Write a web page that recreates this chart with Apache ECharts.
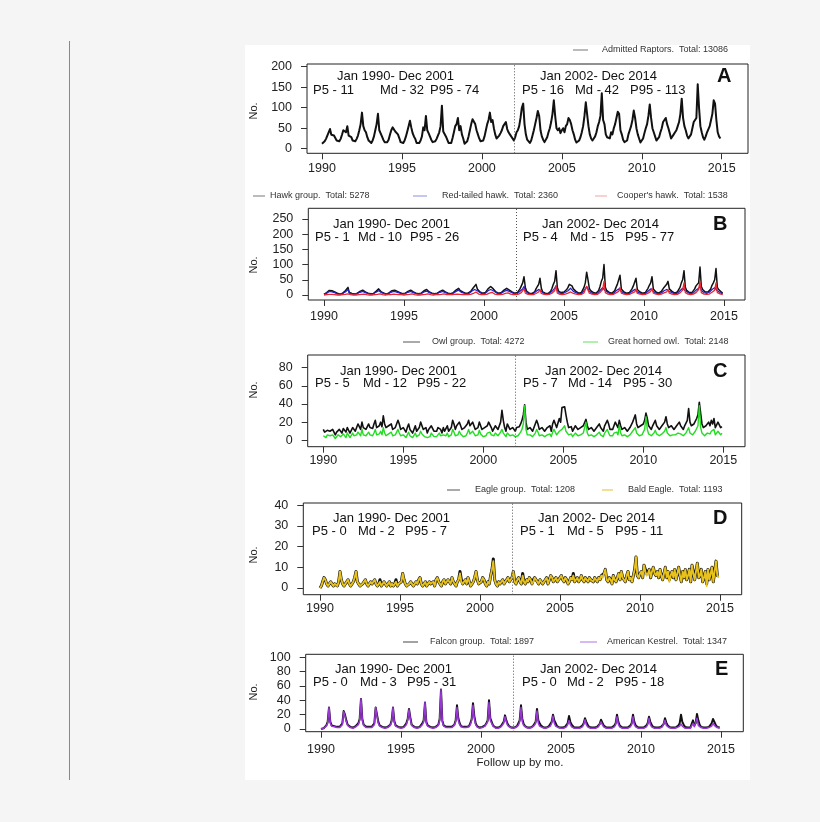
<!DOCTYPE html>
<html>
<head>
<meta charset="utf-8">
<script src="https://cdn.jsdelivr.net/npm/echarts@6/dist/echarts.min.js"></script>
<style>
  body { margin: 0; background: #f5f5f5; width: 820px; height: 822px; position: relative; overflow: hidden; }
  #rule { position: absolute; left: 69px; top: 41px; width: 1px; height: 739px; background: #888; }
  #chart { position: absolute; left: 245px; top: 45px; width: 505px; height: 735px; background: #fff; }
</style>
</head>
<body>
<div id="rule"></div>
<div id="chart"></div>
<script>
const FONT = '"Liberation Sans", Arial, Helvetica, sans-serif'
const START_YEAR = 1990

// monthly counts, one row per year 1990..2014
const admitted = [
  12,14,18,24,32,40,48,34,30,32,26,20,
  16,18,24,34,45,44,40,55,32,36,28,20,
  16,18,24,32,45,60,88,55,45,40,28,20,
  16,14,20,30,45,60,85,45,48,30,22,16,
  14,16,22,34,45,52,55,42,38,35,26,16,
  12,14,20,30,42,55,68,52,38,30,24,14,
  12,14,20,30,52,45,80,45,38,30,22,16,
  16,18,24,32,40,55,105,42,40,30,22,14,
  10,14,26,40,55,60,75,45,55,35,25,12,
  14,18,30,45,60,72,70,60,45,35,25,18,
  16,20,30,45,60,70,88,65,70,50,35,25,
  28,32,38,45,55,58,65,48,40,35,30,26,
  20,28,40,45,55,75,100,110,60,35,22,18,
  14,20,32,45,60,75,92,80,45,30,22,16,
  20,28,40,50,65,85,118,80,50,45,50,38,
  45,50,40,55,60,75,70,60,45,35,22,15,
  15,20,28,40,55,80,113,110,55,35,25,20,
  25,30,40,55,65,80,135,70,60,35,28,30,
  25,40,35,50,60,75,90,85,45,35,22,16,
  12,20,35,45,55,70,93,75,50,35,25,15,
  20,25,38,50,60,80,108,75,50,40,30,20,
  20,28,40,50,65,70,75,60,50,38,25,25,
  35,40,45,55,65,85,122,75,55,45,32,25,
  25,35,50,65,70,75,157,100,55,40,28,22,
  30,40,40,55,70,85,118,110,70,40,30,25
]

const hawkGroup = [
  2,4,8,12,15,10,14,16,10,8,6,4,
  3,4,6,10,14,16,25,8,6,5,4,3,
  4,6,8,12,14,16,18,10,8,6,5,4,
  3,5,8,12,16,20,22,10,8,6,5,3,
  5,8,10,14,18,16,14,12,10,8,6,4,
  4,6,8,12,14,16,22,10,8,6,5,4,
  4,6,10,14,16,18,20,10,8,6,5,4,
  5,6,8,12,14,16,20,10,8,6,5,4,
  6,8,12,16,18,22,15,12,10,8,6,5,
  6,8,12,18,24,30,35,20,14,10,8,6,
  6,8,12,20,26,28,32,20,14,10,8,6,
  6,8,10,16,20,22,25,16,12,10,8,6,
  5,8,12,20,30,40,60,25,12,8,6,5,
  5,6,10,20,28,35,55,22,10,8,6,5,
  5,8,12,22,35,45,80,25,12,10,8,6,
  10,15,18,25,35,40,30,20,15,12,8,6,
  5,8,14,25,40,75,50,22,14,10,8,6,
  6,10,15,28,45,55,100,25,15,12,8,6,
  6,8,14,25,35,40,65,20,14,10,8,6,
  5,8,12,20,30,35,55,18,12,10,8,6,
  6,8,14,22,32,40,60,20,14,10,8,6,
  8,12,18,25,30,35,45,20,15,12,8,6,
  6,10,15,25,40,50,80,25,15,12,8,6,
  8,12,20,30,35,40,92,28,18,12,10,8,
  10,15,20,32,40,50,87,25,18,14,10,6
]

const redTailed = [
  2,3,6,10,12,8,10,12,8,6,4,3,
  2,3,5,8,10,10,18,6,5,4,3,2,
  3,5,6,9,11,12,14,8,6,5,4,3,
  2,4,6,9,12,14,16,8,6,5,4,2,
  4,6,8,10,14,12,10,9,8,6,5,3,
  3,5,6,9,11,12,16,8,6,5,4,3,
  3,5,7,10,12,13,14,8,6,5,4,3,
  4,5,6,9,11,12,14,8,6,5,4,3,
  4,6,9,12,14,16,11,9,8,6,5,4,
  4,6,9,13,16,18,20,14,10,8,6,4,
  4,6,9,14,18,18,20,14,10,8,6,4,
  4,6,8,12,14,15,16,12,9,8,6,4,
  3,5,8,12,16,20,28,14,8,6,4,3,
  3,4,7,12,15,18,24,12,7,5,4,3,
  3,5,8,12,18,22,30,14,8,6,5,4,
  6,9,10,14,20,22,18,12,9,8,5,4,
  3,5,8,14,20,28,22,12,9,6,5,4,
  4,6,9,15,20,24,30,14,9,8,5,4,
  4,5,8,14,18,20,25,12,9,6,5,4,
  3,5,7,12,16,18,22,10,8,6,5,4,
  4,5,8,12,16,20,25,12,9,6,5,4,
  5,7,10,14,16,18,22,12,9,8,5,4,
  4,6,9,14,18,22,28,14,9,8,5,4,
  5,7,12,16,18,22,30,15,10,8,6,5,
  6,9,12,18,20,24,28,14,10,8,6,4
]

const coopers = [
  0,0,1,1,2,1,2,3,1,1,0,0,
  0,0,1,1,2,2,4,1,1,0,0,0,
  0,1,1,2,2,2,3,1,1,1,0,0,
  0,0,1,2,2,3,4,1,1,1,0,0,
  1,1,1,2,3,3,2,2,1,1,1,0,
  0,1,1,2,2,3,4,1,1,1,0,0,
  0,1,1,2,2,3,4,1,1,1,0,0,
  1,1,1,2,2,3,4,1,1,1,1,0,
  1,1,2,3,3,4,2,2,1,1,1,1,
  1,1,2,3,5,8,10,5,3,2,1,1,
  1,1,2,4,6,7,9,5,3,2,1,1,
  1,1,2,3,5,6,7,4,3,2,1,1,
  1,2,3,5,8,12,20,6,3,2,1,1,
  1,1,2,5,8,10,18,5,2,2,1,1,
  1,2,3,6,10,14,30,6,3,2,2,1,
  2,3,4,6,9,10,8,5,4,3,2,1,
  1,2,4,7,12,28,16,6,4,3,2,1,
  1,2,4,8,14,18,45,8,4,3,2,1,
  1,2,4,7,10,12,25,6,4,3,2,1,
  1,2,3,6,9,10,20,5,3,3,2,1,
  1,2,4,6,10,12,22,6,4,3,2,1,
  2,3,5,7,9,10,18,6,4,3,2,1,
  1,2,4,7,12,16,40,8,4,3,2,1,
  2,3,5,8,10,18,45,8,5,3,2,2,
  2,3,5,9,12,16,40,8,5,4,2,1
]

const owlGroup = [
  12,9,8,11,13,10,8,12,10,6,9,11,
  12,10,8,13,11,9,14,12,8,10,14,12,
  10,14,18,15,12,20,14,16,12,10,18,14,
  16,13,18,22,14,12,16,20,15,27,18,14,
  12,16,14,18,12,10,14,16,22,18,12,10,
  14,12,9,14,18,12,10,8,12,16,10,12,
  14,20,16,12,10,14,8,12,10,16,14,10,
  12,10,14,16,12,8,14,10,12,16,10,8,
  14,22,18,12,16,14,20,16,12,10,14,12,
  18,22,16,14,20,18,12,10,14,20,16,12,
  10,14,12,16,20,18,14,10,12,16,14,12,
  14,20,33,22,14,10,18,20,12,10,14,12,
  10,14,12,15,18,22,28,39,20,12,10,14,
  12,10,14,16,22,18,12,10,14,12,10,12,
  14,12,16,10,18,22,20,14,16,24,20,36,
  38,37,28,20,14,12,15,10,12,16,14,12,
  10,14,12,16,18,23,16,12,10,14,12,10,
  12,14,16,18,14,12,10,16,14,22,18,12,
  14,12,16,20,18,14,22,16,12,10,14,12,
  10,12,14,16,20,24,28,18,14,12,16,14,
  18,22,30,24,16,14,12,16,18,22,16,14,
  12,14,16,18,20,26,18,14,12,16,14,12,
  14,16,18,20,16,14,12,16,18,22,35,20,
  16,14,18,20,24,28,42,30,18,14,12,16,
  18,20,16,22,18,24,14,16,20,18,14,15
]

const greatHorned = [
  5,4,3,6,7,5,3,6,5,2,4,6,
  6,4,3,7,5,3,8,6,3,4,8,5,
  4,6,9,8,5,12,6,8,5,4,9,6,
  7,5,8,12,6,4,7,10,6,14,8,5,
  5,7,6,9,5,3,6,8,12,8,5,4,
  6,5,3,6,9,5,4,3,5,8,4,5,
  6,10,7,5,4,6,3,5,4,8,6,4,
  5,4,6,8,5,3,6,4,5,8,4,3,
  6,12,9,5,7,6,10,7,5,4,6,5,
  8,12,7,6,10,9,5,4,6,11,7,5,
  4,6,5,8,10,9,6,4,5,8,6,5,
  6,9,12,8,6,4,8,10,5,4,6,5,
  4,6,5,7,9,12,18,38,12,6,4,6,
  5,4,6,8,12,9,5,4,6,5,4,5,
  6,5,7,4,9,12,10,6,7,10,8,12,
  14,16,10,8,6,5,7,4,5,8,6,5,
  4,6,5,8,9,20,8,5,4,6,5,4,
  5,6,8,9,6,5,4,8,6,12,8,5,
  6,5,8,10,9,6,17,8,5,4,6,5,
  4,5,6,8,10,12,14,8,6,5,7,6,
  8,12,26,12,7,6,5,7,8,11,7,6,
  5,6,7,8,10,14,8,6,5,7,6,5,
  6,7,8,10,7,6,5,7,8,10,14,8,
  7,6,8,10,12,16,38,14,8,6,5,7,
  8,9,7,10,8,12,6,7,10,9,6,8
]

const baldEagle = [
  0,1,3,5,4,2,1,2,3,2,1,2,
  2,1,3,8,4,2,1,2,3,4,2,1,
  2,3,5,8,3,2,1,1,2,3,4,2,
  1,2,3,2,3,4,2,1,2,3,1,2,
  3,2,1,2,3,1,2,1,2,3,1,2,
  2,3,7,4,2,1,1,2,3,2,1,2,
  3,2,4,5,2,1,2,3,1,2,3,2,
  2,3,1,4,5,3,2,1,3,4,2,3,
  4,3,2,5,3,2,1,3,4,7,3,2,
  3,4,2,5,3,1,2,3,5,8,4,2,
  2,3,5,4,2,1,3,2,6,9,13,4,
  2,1,3,2,3,4,2,3,4,5,3,4,
  5,8,3,2,4,5,3,2,6,3,2,4,
  3,5,4,2,3,5,4,3,2,4,3,2,
  3,4,5,2,4,6,5,3,4,5,3,4,
  5,6,4,3,5,4,2,3,5,4,6,3,
  4,5,3,4,6,4,3,5,4,3,5,4,
  4,3,5,4,3,5,4,6,5,7,9,4,
  3,5,4,2,6,4,3,5,7,4,8,5,
  4,3,6,8,4,5,3,6,9,15,6,5,
  7,8,5,11,8,6,7,9,5,8,10,7,
  6,8,5,9,6,4,7,10,5,8,3,6,
  8,5,9,4,7,10,6,3,8,5,9,4,
  6,9,3,11,7,4,8,12,5,6,9,3,
  5,8,1,9,4,7,10,3,8,13,6,5
]

// other eagles in the eagle group: [month index from Jan 1990, count]
const otherEagles = [
  [45, 1], [57, 1], [105, 1], [106, 1], [130, 1], [152, 1], [160, 1],
  [190, 1], [212, 1], [244, 1], [245, 1], [262, 1], [280, 1], [290, 1], [299, 1]
]

const falconGroup = [
  0,0,1,3,5,10,30,10,5,3,4,3,
  3,4,3,5,8,25,20,12,6,4,3,3,
  2,3,4,5,8,14,42,14,6,4,3,2,
  3,2,3,4,8,30,20,10,5,4,3,2,
  2,3,3,4,6,12,30,11,5,4,3,3,
  2,3,3,5,8,14,28,16,6,4,3,2,
  2,2,3,4,8,12,37,10,5,4,3,2,
  2,2,3,4,6,14,55,12,5,4,3,2,
  3,2,3,4,6,12,33,15,8,4,3,3,
  2,3,3,4,8,14,36,18,8,4,3,2,
  2,3,4,5,8,12,40,15,10,5,3,2,
  2,2,3,4,6,10,19,12,7,4,3,2,
  2,2,3,4,6,12,33,14,7,4,3,2,
  2,2,3,4,7,10,28,12,8,5,3,2,
  2,2,3,4,6,10,20,12,8,4,3,2,
  2,2,2,3,5,8,18,10,6,4,2,2,
  2,2,2,3,5,8,15,10,6,3,2,2,
  2,2,2,3,5,7,13,9,5,3,2,2,
  2,2,2,3,5,8,20,10,5,3,2,2,
  2,2,2,3,5,8,20,10,5,3,2,2,
  2,2,2,3,5,8,17,10,6,3,2,2,
  2,2,2,3,5,7,15,9,5,3,2,2,
  2,2,2,3,5,8,20,10,6,3,2,2,
  2,2,3,12,5,8,21,12,6,3,2,2,
  2,2,2,3,5,8,14,12,6,3,2,2
]

const kestrel = [
  0,0,1,2,4,8,30,8,4,2,3,2,
  2,3,2,4,6,24,18,10,5,3,2,2,
  1,2,3,4,6,12,42,12,5,3,2,1,
  2,1,2,3,6,30,18,8,4,3,2,1,
  1,2,2,3,5,10,30,9,4,3,2,2,
  1,2,2,4,6,12,27,14,5,3,2,1,
  1,1,2,3,6,10,37,8,4,3,2,1,
  1,1,2,3,5,12,55,10,4,3,2,1,
  2,1,2,3,5,10,30,12,6,3,2,2,
  1,2,2,3,6,12,33,15,6,3,2,1,
  1,2,3,4,6,10,37,12,8,4,2,1,
  1,1,2,3,5,8,17,10,5,3,2,1,
  1,1,2,3,5,10,30,10,5,3,2,1,
  1,1,2,3,5,8,25,8,4,3,2,1,
  1,1,2,3,4,8,18,8,4,2,2,1,
  1,1,1,2,3,6,12,6,3,2,1,1,
  1,1,1,2,3,6,13,6,3,2,1,1,
  1,1,1,2,3,5,10,6,3,2,1,1,
  1,1,1,2,3,6,17,7,3,2,1,1,
  1,1,1,2,3,6,17,6,3,2,1,1,
  1,1,1,2,3,6,15,6,3,2,1,1,
  1,1,1,2,3,5,12,5,3,2,1,1,
  1,1,1,2,2,4,7,4,2,1,1,1,
  1,1,2,8,3,5,15,5,3,2,1,1,
  1,1,1,2,3,4,8,5,3,2,1,1
]

const eagleGroup = baldEagle.slice()
otherEagles.forEach(([m, n]) => { eagleGroup[m] += n })

const periodLabels = ['Jan 1990- Dec 2001', 'Jan 2002- Dec 2014']
const panelLetters = ['A', 'B', 'C', 'D', 'E']
// P5 / Md / P95 per period
const panelStats = [
  [['11', '32', '74'], ['16', '42', '113']],
  [['1', '10', '26'], ['4', '15', '77']],
  [['5', '12', '22'], ['7', '14', '30']],
  [['0', '2', '7'], ['1', '5', '11']],
  [['0', '3', '31'], ['0', '2', '18']]
]
const yTickMax = [200, 250, 80, 40, 100]
const yTickStep = [50, 50, 20, 10, 20]

// pixel layout inside the white figure area
const layout = [
  { boxL: 62, boxR: 503, boxT: 19, boxB: 108.3, x1990: 77, x2015: 476.7, y0: 103.7, yTop: 21.7, lab: 9, noY: 66,
    tY: 31, sY: 45, t1: 92, s1: [68, 135, 185], t2: 295, s2: [277, 330, 385], letter: 472 },
  { boxL: 63.3, boxR: 500, boxT: 163.3, boxB: 255, x1990: 79, x2015: 479, y0: 250, yTop: 174, lab: 10, noY: 220,
    tY: 179, sY: 192, t1: 88, s1: [70, 113, 165], t2: 297, s2: [278, 325, 380], letter: 468 },
  { boxL: 62.7, boxR: 500, boxT: 310, boxB: 401.7, x1990: 78.3, x2015: 478.3, y0: 395.3, yTop: 322.7, lab: 7, noY: 345,
    tY: 326, sY: 338, t1: 95, s1: [70, 118, 172], t2: 300, s2: [278, 323, 378], letter: 468 },
  { boxL: 58.3, boxR: 496.7, boxT: 458, boxB: 549.7, x1990: 75, x2015: 475, y0: 543, yTop: 460.3, lab: 7, noY: 510,
    tY: 473, sY: 486, t1: 88, s1: [67, 113, 160], t2: 293, s2: [275, 322, 370], letter: 468 },
  { boxL: 60.7, boxR: 498.3, boxT: 609.3, boxB: 686.7, x1990: 76, x2015: 476, y0: 684, yTop: 612.3, lab: 11, noY: 647,
    tY: 624, sY: 637, t1: 90, s1: [68, 115, 162], t2: 295, s2: [277, 322, 370], letter: 470 }
]

// series per panel: name (legend text), values, colour, width, legend placement
const panelSeries = [
  [
    { name: 'Admitted Raptors.  Total: 13086', values: admitted, color: '#111', width: 2,
      leg: { icon: 328, w: 15, text: 357, y: 4, color: '#777' } }
  ],
  [
    { name: 'Hawk group.  Total: 5278', values: hawkGroup, color: '#111', width: 1.5,
      leg: { icon: 8, w: 12, text: 25, y: 150, color: '#777' } },
    { name: 'Red-tailed hawk.  Total: 2360', values: redTailed, color: '#2323c8', width: 1.3,
      leg: { icon: 168, w: 14, text: 197, y: 150, color: '#8c8ce6' } },
    { name: "Cooper's hawk.  Total: 1538", values: coopers, color: '#ee2530', width: 1.3,
      leg: { icon: 350, w: 12, text: 372, y: 150, color: '#f4a0a0' } }
  ],
  [
    { name: 'Owl group.  Total: 4272', values: owlGroup, color: '#111', width: 1.6,
      leg: { icon: 158, w: 17, text: 187, y: 296, color: '#555' } },
    { name: 'Great horned owl.  Total: 2148', values: greatHorned, color: '#22dd22', width: 1.4,
      leg: { icon: 338, w: 15, text: 363, y: 296, color: '#5ee05e' } }
  ],
  [
    { name: 'Eagle group.  Total: 1208', values: eagleGroup, color: '#111', width: 3,
      leg: { icon: 202, w: 13, text: 230, y: 444, color: '#555' } },
    { name: 'Bald Eagle.  Total: 1193', values: baldEagle, color: '#e8c21c', width: 1.9,
      leg: { icon: 357, w: 11, text: 383, y: 444, color: '#e2bf2a' } }
  ],
  [
    { name: 'Falcon group.  Total: 1897', values: falconGroup, color: '#111', width: 2,
      leg: { icon: 158, w: 15, text: 185, y: 596, color: '#444' } },
    { name: 'American Kestrel.  Total: 1347', values: kestrel, color: '#9b35d8', width: 1.5,
      leg: { icon: 335, w: 17, text: 362, y: 596, color: '#b070e0' } }
  ]
]

const monthly = values => values.map((v, i) => [START_YEAR + i / 12, v])

const grid = [], xAxis = [], yAxis = [], series = [], legend = [], graphic = []

const txt = (text, x, y, size, opts) => ({
  type: 'text', silent: true,
  style: Object.assign({ text, x, y, font: size + 'px ' + FONT, fill: '#111',
    textAlign: 'left', textVerticalAlign: 'middle', verticalAlign: 'middle' }, opts || {})
})

layout.forEach((p, k) => {
  const pxYr = (p.x2015 - p.x1990) / 25
  const pxU = (p.y0 - p.yTop) / yTickMax[k]
  const g = grid.length

  // plot box carrying the data
  grid.push({ left: p.boxL, top: p.boxT, width: p.boxR - p.boxL, height: p.boxB - p.boxT,
    show: true, borderColor: '#222', borderWidth: 1, backgroundColor: 'transparent' })
  xAxis.push({ gridIndex: g, type: 'value', show: false,
    min: 1990 - (p.x1990 - p.boxL) / pxYr, max: 2015 + (p.boxR - p.x2015) / pxYr })
  yAxis.push({ gridIndex: g, type: 'value', show: false,
    min: -(p.boxB - p.y0) / pxU, max: yTickMax[k] + (p.yTop - p.boxT) / pxU })

  // detached x axis, 1990..2015
  grid.push({ left: p.x1990, width: p.x2015 - p.x1990, top: p.boxB - 1, height: 1 })
  xAxis.push({ gridIndex: g + 1, type: 'value', min: 1990, max: 2015, interval: 5,
    axisLine: { show: false }, splitLine: { show: false },
    axisTick: { show: true, length: 6, lineStyle: { color: '#333' } },
    axisLabel: { margin: p.lab, fontSize: 12.5, color: '#222', fontFamily: FONT, formatter: v => String(v) } })
  yAxis.push({ gridIndex: g + 1, type: 'value', show: false, min: 0, max: 1 })

  // detached y axis, 0..max
  grid.push({ left: p.boxL, width: 1, top: p.yTop, height: p.y0 - p.yTop })
  xAxis.push({ gridIndex: g + 2, type: 'value', show: false, min: 0, max: 1 })
  yAxis.push({ gridIndex: g + 2, type: 'value', min: 0, max: yTickMax[k], interval: yTickStep[k],
    axisLine: { show: false }, splitLine: { show: false },
    axisTick: { show: true, length: 6, lineStyle: { color: '#333' } },
    axisLabel: { margin: 15, fontSize: 12.5, color: '#222', fontFamily: FONT } })

  panelSeries[k].forEach((s, j) => {
    const item = {
      type: 'line', name: s.name, xAxisIndex: g, yAxisIndex: g,
      data: monthly(s.values), symbol: 'none', silent: true,
      lineStyle: { color: s.color, width: s.width, join: 'round' }, itemStyle: { color: s.color }
    }
    if (j === 0) {
      item.markLine = { silent: true, symbol: 'none', label: { show: false },
        lineStyle: { color: '#555', width: 1, type: [1, 2] }, data: [{ xAxis: 2002 }] }
    }
    series.push(item)
    // one legend per entry so each sits where the original put it
    legend.push({
      data: [s.name], left: s.leg.icon, top: s.leg.y - 3.5, padding: 0,
      icon: 'rect', itemWidth: s.leg.w, itemHeight: 1, selectedMode: false,
      itemStyle: { color: s.leg.color, borderWidth: 0 },
      textStyle: { fontSize: 9, color: '#333', fontFamily: FONT,
        padding: [0, 0, 0, Math.max(0, s.leg.text - s.leg.icon - s.leg.w - 5)] }
    })
  })

  const st = panelStats[k]
  graphic.push(txt(periodLabels[0], p.t1, p.tY, 13))
  graphic.push(txt(periodLabels[1], p.t2, p.tY, 13))
  const names = ['P5 - ', 'Md - ', 'P95 - ']
  names.forEach((n, i) => {
    graphic.push(txt(n + st[0][i], p.s1[i], p.sY, 13))
    graphic.push(txt(n + st[1][i], p.s2[i], p.sY, 13))
  })
  graphic.push(txt(panelLetters[k], p.letter, p.tY, 20, { font: 'bold 20px ' + FONT }))
  graphic.push({ type: 'text', silent: true, x: 9, y: p.noY, rotation: Math.PI / 2,
    style: { text: 'No.', x: 0, y: 0, font: '11px ' + FONT, fill: '#222',
      textAlign: 'center', textVerticalAlign: 'middle', verticalAlign: 'middle', align: 'center' } })
})

graphic.push(txt('Follow up by mo.', 275, 718, 11.5, { textAlign: 'center', align: 'center', fill: '#222' }))

const chart = echarts.init(document.getElementById('chart'), null, { renderer: 'canvas' })
chart.setOption({
  animation: false,
  backgroundColor: '#fff',
  grid, xAxis, yAxis, series, legend, graphic
})
</script>
</body>
</html>
